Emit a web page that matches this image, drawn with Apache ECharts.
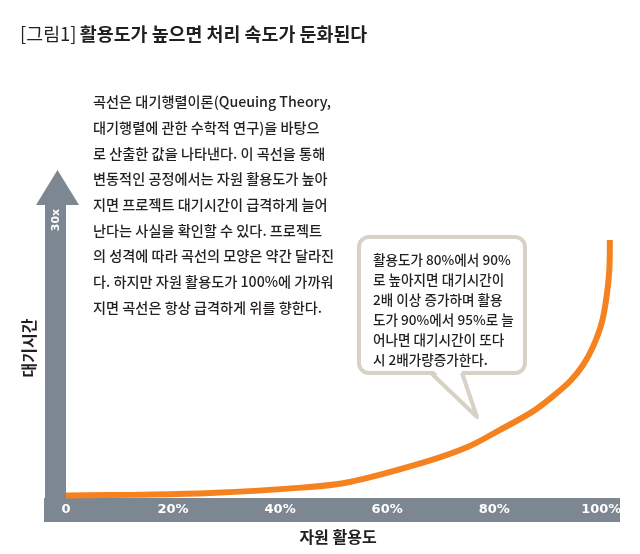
<!DOCTYPE html>
<html>
<head>
<meta charset="utf-8">
<script src="https://cdn.jsdelivr.net/npm/echarts@6/dist/echarts.min.js"></script>
<style>
html,body{margin:0;padding:0;background:#fff;}
#chart{width:640px;height:554px;}
</style>
</head>
<body>
<div id="chart"></div>
<script>
// Data
const utilization = [0, 13, 27, 44, 53, 67, 75, 81, 87, 91, 94.2, 96.6, 98.5, 100.1, 101.0, 101.5, 101.6];
const waitTime = [0.27, 0.35, 0.53, 1.1, 1.7, 3.8, 5.4, 7.2, 9.1, 10.8, 12.4, 14.1, 16.1, 18.6, 21.4, 24.2, 27.35];
const xTickLabels = ['0', '20%', '40%', '60%', '80%', '100%'];
const yMarkLabel = '30x';

const titleMain = '활용도가 높으면 처리 속도가 둔화된다';
const titleTag = '[그림1]';
const xName = '자원 활용도';
const yName = '대기시간';
const bodyLines = [
  '곡선은 대기행렬이론(Queuing Theory,',
  '대기행렬에 관한 수학적 연구)을 바탕으',
  '로 산출한 값을 나타낸다. 이 곡선을 통해',
  '변동적인 공정에서는 자원 활용도가 높아',
  '지면 프로젝트 대기시간이 급격하게 늘어',
  '난다는 사실을 확인할 수 있다. 프로젝트',
  '의 성격에 따라 곡선의 모양은 약간 달라진',
  '다. 하지만 자원 활용도가 100%에 가까워',
  '지면 곡선은 항상 급격하게 위를 향한다.'
];
const bubbleLines = [
  '활용도가 80%에서 90%',
  '로 높아지면 대기시간이',
  '2배 이상 증가하며 활용',
  '도가 90%에서 95%로 늘',
  '어나면 대기시간이 또다',
  '시 2배가량증가한다.'
];

const GRAY = '#7d8792';
const ORANGE = '#f5821f';
const INK = '#231f20';
const KR = '"Noto Sans CJK KR", "Noto Sans", sans-serif';

const chart = echarts.init(document.getElementById('chart'), null, {renderer: 'canvas'});

const option = {
  animation: false,
  backgroundColor: '#fff',
  grid: {left: 66, right: 28, top: 215, bottom: 56, containLabel: false},
  xAxis: {
    type: 'value', min: 0, max: 102, interval: 20,
    axisLine: {show: false}, axisTick: {show: false}, splitLine: {show: false},
    axisLabel: {
      show: true, margin: 5, color: '#fff', fontWeight: 'bold', fontSize: 13,
      fontFamily: '"DejaVu Sans", sans-serif', showMaxLabel: false,
      formatter: function (v) { const i = Math.round(v / 20); return xTickLabels[i] !== undefined ? xTickLabels[i] : ''; }
    }
  },
  yAxis: {
    type: 'value', min: 0, max: 30,
    axisLine: {show: false}, axisTick: {show: false}, splitLine: {show: false}, axisLabel: {show: false}
  },
  graphic: [
    {type: 'rect', z: 0, shape: {x: 44, y: 498, width: 576, height: 24}, style: {fill: GRAY}},
    {type: 'rect', z: 0, shape: {x: 45, y: 200, width: 21, height: 300}, style: {fill: GRAY}},
    {type: 'polygon', z: 0, shape: {points: [[57.5, 170], [36, 205], [79, 205]]}, style: {fill: GRAY}},
    {type: 'text', z: 1, x: 56, y: 220, rotation: Math.PI / 2,
      style: {text: yMarkLabel, fill: '#fff', font: 'bold 11px "DejaVu Sans", sans-serif', align: 'center', verticalAlign: 'middle'}},
    {type: 'text', z: 1, x: 29, y: 348, rotation: Math.PI / 2,
      style: {text: yName, fill: INK, font: 'bold 16px ' + KR, align: 'center', verticalAlign: 'middle'}},
    {type: 'text', z: 1, x: 338, y: 537,
      style: {text: xName, fill: INK, font: 'bold 16px ' + KR, align: 'center', verticalAlign: 'middle'}},
    {type: 'text', z: 1, x: 20, y: 34,
      style: {
        text: '{a|' + titleTag + '} {b|' + titleMain + '}',
        verticalAlign: 'middle', align: 'left',
        rich: {
          a: {fontFamily: KR, fontSize: 18.4, fontWeight: 'normal', fill: INK, color: INK},
          b: {fontFamily: KR, fontSize: 18.4, fontWeight: 'bold', fill: INK, color: INK}
        }
      }},
    {type: 'text', z: 1, x: 93, y: 89,
      style: {text: bodyLines.join('\n'), fill: INK, font: '500 14.2px ' + KR, lineHeight: 25.7, align: 'left', verticalAlign: 'top'}},
    {type: 'rect', z: 1, shape: {x: 359, y: 237, width: 166, height: 136, r: 10},
      style: {fill: '#fff', stroke: '#d8d1c6', lineWidth: 4}},
    {type: 'polygon', z: 1, shape: {points: [[433, 370], [461, 370], [477, 416]]}, style: {fill: '#fff'}},
    {type: 'polyline', z: 1, shape: {points: [[431, 373], [477, 417], [462, 373]]},
      style: {stroke: '#d8d1c6', lineWidth: 4, fill: null, lineJoin: 'round'}},
    {type: 'text', z: 2, x: 373, y: 250,
      style: {text: bubbleLines.join('\n'), fill: INK, font: '500 13.6px ' + KR, lineHeight: 20, align: 'left', verticalAlign: 'top'}}
  ],
  series: [{
    type: 'line',
    z: 5,
    data: utilization.map((u, i) => [u, waitTime[i]]),
    symbol: 'none',
    smooth: 0.35,
    clip: false,
    lineStyle: {color: ORANGE, width: 6, cap: 'butt'}
  }]
};
chart.setOption(option);
</script>
</body>
</html>
